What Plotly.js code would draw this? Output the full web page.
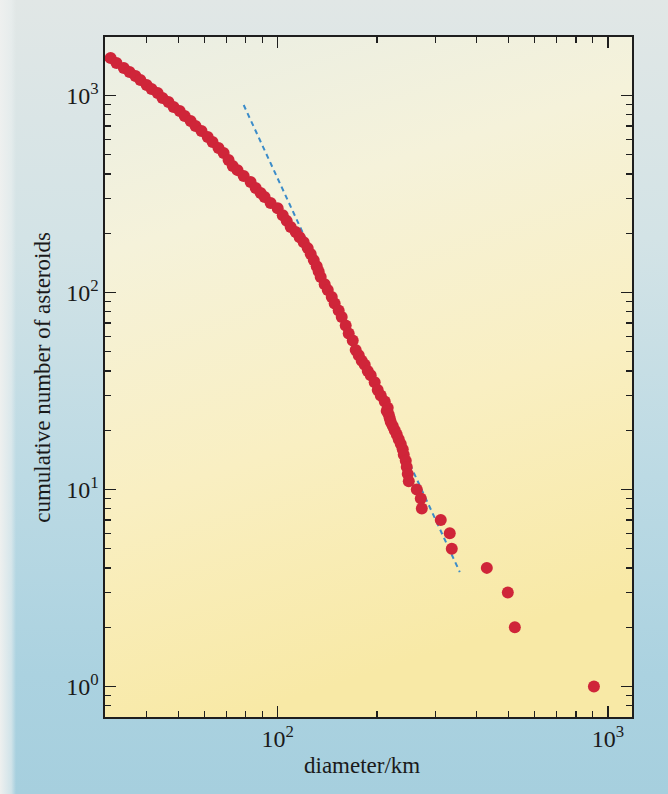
<!DOCTYPE html>
<html>
<head>
<meta charset="utf-8">
<script src="https://cdn.plot.ly/plotly-3.0.1.min.js"></script>
<style>
  html, body { margin: 0; padding: 0; }
  body {
    width: 668px; height: 794px; overflow: hidden; position: relative;
    background: linear-gradient(to bottom, #e1e7e6 0%, #d3e3e6 30%, #bcdae4 60%, #abd2e0 85%, #a6cfde 100%);
  }
  #strip {
    position: absolute; left: 0; top: 0; width: 16px; height: 794px;
    background: linear-gradient(to right, #eef0ef 0%, rgba(235,240,240,0.6) 70%, rgba(235,240,240,0) 100%);
  }
  #chart { position: absolute; left: 0; top: 0; width: 668px; height: 794px; }
</style>
</head>
<body>
<div id="strip"></div>
<div id="chart"></div>
<script>
// ---- data ----
const diameterKm = [
  31.2, 32.5, 34.2, 35.6, 37.1, 38.4, 40.1, 41.5, 43.3, 44.8,
  46.7, 48.4, 50.5, 52.3, 54.5, 56.4, 58.8, 61.4, 63.5, 66.2,
  68.6, 71.0, 73.1, 75.6, 78.9, 82.8, 85.8, 88.8, 91.3, 95.2,
  100, 103.6, 106.5, 109.5, 113.4, 116.6, 119.9, 123.3, 125.9, 128.6,
  131.3, 133.1, 135.0, 138.8, 141.8, 145.8, 148.8, 153.0, 156.3, 160.7,
  164.1, 168.8, 172.3, 176.0, 179.7, 183.5, 187.4, 191.3, 196.7, 200.9,
  205.2, 211.0, 215.4,
  213.9, 216.9, 218.5, 220.0, 223.1, 226.2, 229.4, 232.6, 235.9, 239.2,
  240.9, 244.3, 246.0, 247.7, 249.5, 263.8, 271.3, 273.2, 311.8, 332.0,
  336.7, 429.9, 497.7, 522.6, 907.2
];
const cumulativeCount = [
  1549, 1461, 1378, 1315, 1256, 1198, 1130, 1079, 1029, 971,
  926, 874, 834, 787, 742, 700, 660, 615, 580, 541,
  510, 470, 439, 418, 390, 364, 339, 320, 305, 285,
  268, 247, 231, 215, 203, 191, 180, 168, 157, 146,
  136, 128, 120, 110, 103, 95, 88, 81, 75, 68,
  62, 57, 51, 48, 45, 43, 40, 38, 35, 32,
  30, 28, 26,
  25, 24, 23, 22, 21, 20, 19, 18, 17, 16,
  15, 14, 13, 12, 11, 10, 9, 8, 7, 6,
  5, 4, 3, 2, 1
];
const fitDiameterKm = [78.9, 356];
const fitCount = [895, 3.81];

const xMajorTicks = [100, 1000];
const xMajorLabels = ['10<sup>2</sup>', '10<sup>3</sup>'];
const xMinorTicks = [40, 50, 60, 70, 80, 90, 200, 300, 400, 500, 600, 700, 800, 900];
const yMajorTicks = [1, 10, 100, 1000];
const yMajorLabels = ['10<sup>0</sup>', '10<sup>1</sup>', '10<sup>2</sup>', '10<sup>3</sup>'];
const yMinorTicks = [0.8, 0.9, 2, 3, 4, 5, 6, 7, 8, 9, 20, 30, 40, 50, 60, 70, 80, 90,
                     200, 300, 400, 500, 600, 700, 800, 900];

const xTitle = 'diameter/km';
const yTitle = 'cumulative number of asteroids';

// ---- plot-area background (paper-like gradient) ----
const bgSvg = "<svg xmlns='http://www.w3.org/2000/svg' width='100' height='100' preserveAspectRatio='none' viewBox='0 0 100 100'>" +
  "<defs><linearGradient id='g' x1='0' y1='0' x2='0.25' y2='1'>" +
  "<stop offset='0' stop-color='#eaeee4'/><stop offset='0.3' stop-color='#f5f2da'/>" +
  "<stop offset='0.65' stop-color='#f9efc2'/><stop offset='1' stop-color='#f8e9a6'/></linearGradient></defs>" +
  "<rect width='100' height='100' fill='url(#g)'/></svg>";
const bgUri = 'data:image/svg+xml;charset=utf-8,' + encodeURIComponent(bgSvg);

const axisColor = '#1e1e1e';
const serif = 'Liberation Serif, Times New Roman, serif';

const traces = [
  {
    x: fitDiameterKm, y: fitCount, type: 'scatter', mode: 'lines',
    line: { color: '#3b8cc9', width: 2, dash: '5px,4px' },
    hoverinfo: 'skip'
  },
  {
    x: diameterKm, y: cumulativeCount, type: 'scatter', mode: 'markers',
    marker: { color: '#cf2539', size: 12, line: { width: 0 } }
  }
];

const commonAxis = {
  type: 'log', showgrid: false, zeroline: false,
  showline: true, linecolor: axisColor, linewidth: 1.6, mirror: 'allticks',
  ticks: 'inside', ticklen: 11, tickwidth: 1.4, tickcolor: axisColor,
  tickfont: { family: serif, size: 24, color: '#1a1a1a' },
  tickmode: 'array'
};

const layout = {
  width: 668, height: 794,
  margin: { l: 105, r: 36, t: 37, b: 77, pad: 0 },
  paper_bgcolor: 'rgba(0,0,0,0)',
  plot_bgcolor: 'rgba(0,0,0,0)',
  showlegend: false,
  font: { family: serif, color: '#1a1a1a' },
  xaxis: Object.assign({}, commonAxis, {
    range: [Math.log10(30), 3.073],
    tickvals: xMajorTicks, ticktext: xMajorLabels,
    minor: { tickmode: 'array', tickvals: xMinorTicks, ticks: 'inside', ticklen: 6, tickwidth: 1.3, tickcolor: axisColor, showgrid: false }
  }),
  yaxis: Object.assign({}, commonAxis, {
    range: [Math.log10(0.7), 3.297],
    tickvals: yMajorTicks, ticktext: yMajorLabels,
    minor: { tickmode: 'array', tickvals: yMinorTicks, ticks: 'inside', ticklen: 6, tickwidth: 1.3, tickcolor: axisColor, showgrid: false }
  }),
  images: [{
    source: bgUri, xref: 'paper', yref: 'paper', x: 0, y: 1, sizex: 1, sizey: 1,
    xanchor: 'left', yanchor: 'top', sizing: 'stretch', layer: 'below'
  }],
  annotations: [
    { text: xTitle, xref: 'paper', yref: 'paper', x: 0.488, y: -0.072,
      xanchor: 'center', yanchor: 'middle', showarrow: false,
      font: { family: serif, size: 23, color: '#1a1a1a' } },
    { text: yTitle, xref: 'paper', yref: 'paper', x: -0.12, y: 0.5,
      xanchor: 'center', yanchor: 'middle', showarrow: false, textangle: -90,
      font: { family: serif, size: 23, color: '#1a1a1a' } }
  ]
};

Plotly.newPlot('chart', traces, layout, { displayModeBar: false, staticPlot: true });
</script>
</body>
</html>
